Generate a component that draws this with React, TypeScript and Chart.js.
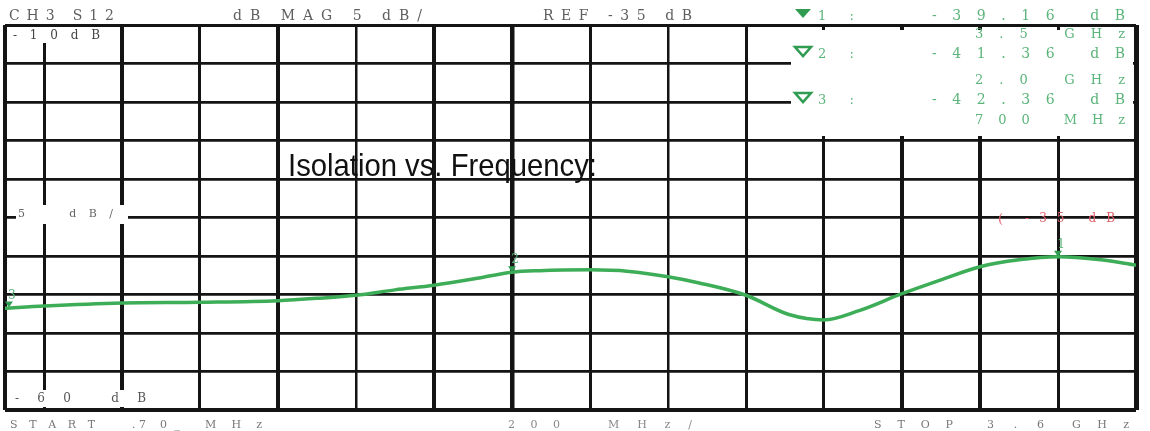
import React, { useEffect, useRef } from "react";
import { Chart, registerables } from "chart.js";

Chart.register(...registerables);

// ---- data ----
const START_GHZ = 0.7;
const STOP_GHZ = 3.6;
const REF_TOP_DB = -10;
const REF_BOTTOM_DB = -60;
const DB_PER_DIV = 5;

const freqGHz = [0.7, 0.8, 1.0, 1.2, 1.4, 1.5, 1.6, 1.7, 1.8, 1.9, 2.0, 2.07, 2.2, 2.3, 2.4, 2.48, 2.6, 2.71, 2.8, 2.89, 3.0, 3.1, 3.2, 3.3, 3.4, 3.51, 3.6];
const s12dB = [-46.8, -46.5, -46.1, -46.0, -45.8, -45.5, -45.1, -44.4, -43.8, -43.0, -42.1, -41.9, -41.8, -42.0, -42.7, -43.5, -45.1, -47.6, -48.3, -47.1, -44.9, -43.1, -41.4, -40.5, -40.1, -40.5, -41.2];

const xGridGHz = [0.7, 0.8, 1.0, 1.2, 1.4, 1.6, 1.8, 2.0, 2.2, 2.4, 2.6, 2.8, 3.0, 3.2, 3.4, 3.6];
const xGridWidths = [4, 3, 4, 3, 4, 2.5, 4, 4.5, 3, 2.5, 3, 3, 4, 4, 3, 5];

const markerIds = ["1", "2", "3"];
const markerGHz = [3.4, 2.0, 0.71];
const markerDB = [-40.1, -42.1, -46.7];
const readoutDB = ["-39.16 dB", "-41.36 dB", "-42.36 dB"];
const readoutFreq = ["3.5 GHz", "2.0 GHz", "700 MHz"];

const TITLE = "Isolation vs. Frequency:";
const CURVE = "#3dad57";
const GREEN_TXT = "#5bb47a";
const GREEN_DARK = "#2f9c52";
const GRID = "#141414";
const GREY_TXT = "#5e5e5e";

function spaced(ctx: CanvasRenderingContext2D, text: string, x0: number, x1: number, base: number, font: string, color: string) {
  ctx.font = font;
  ctx.fillStyle = color;
  ctx.textAlign = "left";
  ctx.textBaseline = "alphabetic";
  const chars = Array.from(text);
  const widths = chars.map((c) => ctx.measureText(c).width);
  const total = widths.reduce((a, b) => a + b, 0);
  const gap = chars.length > 1 ? (x1 - x0 - total) / (chars.length - 1) : 0;
  let x = x0;
  chars.forEach((c, i) => {
    ctx.fillText(c, x, base);
    x += widths[i] + gap;
  });
}

function tri(ctx: CanvasRenderingContext2D, x: number, y: number, w: number, h: number, filled: boolean) {
  ctx.beginPath();
  ctx.moveTo(x, y);
  ctx.lineTo(x + w, y);
  ctx.lineTo(x + w / 2, y + h);
  ctx.closePath();
  if (filled) {
    ctx.fillStyle = GREEN_DARK;
    ctx.fill();
  } else {
    ctx.strokeStyle = GREEN_DARK;
    ctx.lineWidth = 2.5;
    ctx.stroke();
  }
}

const overlay = {
  id: "analyzerOverlay",
  beforeDatasetsDraw(chart: any) {
    const ctx: CanvasRenderingContext2D = chart.ctx;
    ctx.save();
    // white label boxes over the graticule
    ctx.fillStyle = "#ffffff";
    ctx.fillRect(8, 27, 102, 16);
    ctx.fillRect(16, 205, 112, 19);
    ctx.fillRect(12, 390, 138, 17);
    ctx.fillRect(791, 30, 342, 106);

    const serif = '"DejaVu Serif", "Liberation Serif", serif';
    // header
    spaced(ctx, "CH3 S12", 9, 114, 20, `14px ${serif}`, GREY_TXT);
    spaced(ctx, "dB MAG 5 dB/", 233, 422, 20, `14px ${serif}`, GREY_TXT);
    spaced(ctx, "REF -35 dB", 543, 692, 20, `14px ${serif}`, GREY_TXT);

    // marker readouts
    const rows = [20, 58, 104];
    const freqRows = [38, 84, 124];
    rows.forEach((b, i) => {
      tri(ctx, 795, b - 11, 16, 9, i === 0);
      spaced(ctx, markerIds[i] + ":", 818, 854, b, `13px ${serif}`, GREEN_TXT);
      spaced(ctx, readoutDB[i], 932, 1125, b, `14px ${serif}`, GREEN_TXT);
      spaced(ctx, readoutFreq[i], 975, 1125, freqRows[i], `13px ${serif}`, GREEN_TXT);
    });

    // left scale labels
    spaced(ctx, "-10dB", 13, 100, 39, `12px ${serif}`, "#444");
    spaced(ctx, "5  dB/", 18, 113, 217, `11px ${serif}`, "#666");
    spaced(ctx, "-60 dB", 15, 146, 402, `12px ${serif}`, "#555");

    // bottom labels
    const small = `11px ${serif}`;
    spaced(ctx, "START", 10, 95, 428, small, "#777");
    spaced(ctx, ".7", 132, 146, 428, small, "#777");
    spaced(ctx, "0_", 160, 180, 428, small, "#777");
    spaced(ctx, "MHz", 205, 262, 428, small, "#777");
    spaced(ctx, "200", 508, 560, 428, small, "#888");
    spaced(ctx, "MHz/", 608, 692, 428, small, "#888");
    spaced(ctx, "STOP", 874, 953, 428, small, "#777");
    spaced(ctx, "3.6", 987, 1044, 428, small, "#777");
    spaced(ctx, "GHz", 1072, 1129, 428, small, "#777");

    // reference arrow
    spaced(ctx, "(", 998, 1006, 223, `13px ${serif}`, "#e0606c");
    spaced(ctx, "-35 dB", 1025, 1115, 222, `12px ${serif}`, "#e0606c");

    // title
    ctx.font = '32px "Liberation Sans", Arial, sans-serif';
    ctx.fillStyle = "#111";
    const w = ctx.measureText(TITLE).width;
    ctx.translate(288, 176);
    ctx.scale(309 / w, 1);
    ctx.fillText(TITLE, 0, 0);
    ctx.restore();
  },
  afterDatasetsDraw(chart: any) {
    const ctx: CanvasRenderingContext2D = chart.ctx;
    const xs = chart.scales.x;
    const ys = chart.scales.y;
    ctx.save();
    markerGHz.forEach((f, i) => {
      const px = xs.getPixelForValue(f);
      const py = ys.getPixelForValue(markerDB[i]);
      ctx.beginPath();
      ctx.moveTo(px - 4, py - 6);
      ctx.lineTo(px + 4, py - 6);
      ctx.lineTo(px, py);
      ctx.closePath();
      ctx.fillStyle = GREEN_DARK;
      ctx.fill();
      ctx.font = '12px "DejaVu Serif", serif';
      ctx.fillStyle = GREEN_TXT;
      ctx.textAlign = "center";
      ctx.textBaseline = "alphabetic";
      ctx.fillText(markerIds[i], px + 3, py - 9);
    });
    ctx.restore();
  },
};

export default function App() {
  const ref = useRef<HTMLCanvasElement>(null);
  useEffect(() => {
    document.body.style.margin = "0";
    const chart = new Chart(ref.current as HTMLCanvasElement, {
      type: "line",
      data: {
        datasets: [
          {
            data: freqGHz.map((f, i) => ({ x: f, y: s12dB[i] })),
            borderColor: CURVE,
            borderWidth: 3.5,
            pointRadius: 0,
            cubicInterpolationMode: "monotone",
          },
        ],
      },
      options: {
        animation: false,
        responsive: false,
        devicePixelRatio: 1,
        layout: { padding: { left: 5, top: 25, right: 14, bottom: 21 } },
        plugins: { legend: { display: false }, tooltip: { enabled: false } },
        scales: {
          x: {
            type: "linear",
            min: START_GHZ,
            max: STOP_GHZ,
            afterBuildTicks: (s: any) => {
              s.ticks = xGridGHz.map((v) => ({ value: v }));
            },
            ticks: { display: false },
            grid: {
              drawTicks: false,
              color: GRID,
              lineWidth: (c: any) => xGridWidths[c.index] ?? 3,
            },
            border: { display: false },
          },
          y: {
            type: "linear",
            min: REF_BOTTOM_DB,
            max: REF_TOP_DB,
            ticks: { display: false, stepSize: DB_PER_DIV },
            grid: {
              drawTicks: false,
              color: GRID,
              lineWidth: (c: any) => {
                const v = c.tick ? c.tick.value : 0;
                if (v === REF_BOTTOM_DB) return 4;
                if (v === REF_TOP_DB) return 3;
                return 2.7;
              },
            },
            border: { display: false },
          },
        },
      } as any,
      plugins: [overlay],
    });
    return () => chart.destroy();
  }, []);
  return (
    <div style={{ position: "absolute", left: 0, top: 0, width: 1150, height: 431, background: "#fff" }}>
      <canvas ref={ref} width={1150} height={431} />
    </div>
  );
}
